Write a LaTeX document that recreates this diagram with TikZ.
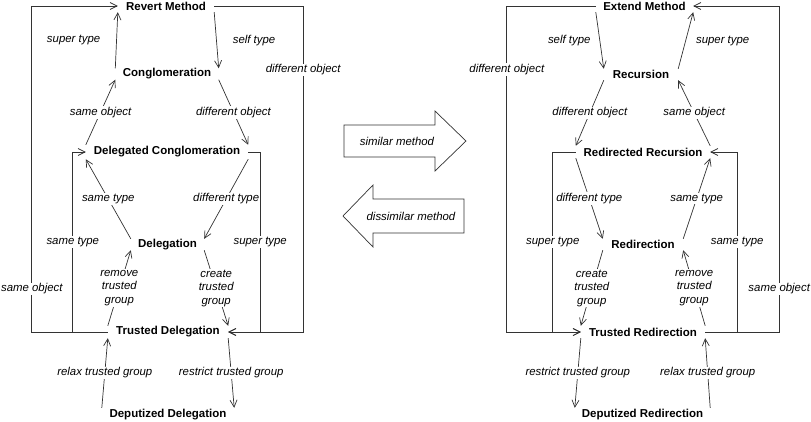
\documentclass[tikz,border=0pt]{standalone}
\usepackage{fontspec}
\setmainfont{Liberation Sans}
\usetikzlibrary{arrows.meta}
\definecolor{ln}{HTML}{333333}

\begin{document}
\begin{tikzpicture}[x=1pt,y=-1pt,
    state/.style={font=\fontsize{11.5}{13.5}\selectfont\bfseries,inner sep=0pt},
    lab/.style={font=\fontsize{11.4}{13.5}\selectfont\itshape,fill=white,inner sep=1pt,align=center},
    conn/.style={draw=ln,line width=0.7pt,-{Straight Barb[length=7pt,width=7pt]}},
    bigarrow/.style={draw=ln,line width=0.7pt,fill=white}]
    \useasboundingbox (0,0) rectangle (811,421);
    % left diagram
    \node[state,minimum width=96,minimum height=12] (rev) at (166,6) {Revert Method};
    \node[state,minimum width=103,minimum height=11] (cong) at (167,74) {Conglomeration};
    \node[state,minimum width=162,minimum height=14] (dc) at (167,152) {Delegated Conglomeration};
    \node[state,minimum width=73,minimum height=11] (del) at (167.5,244.5) {Delegation};
    \node[state,minimum width=120,minimum height=12] (td) at (168,332) {Trusted Delegation};
    \node[state,minimum width=132,minimum height=14] (dd) at (168,415) {Deputized Delegation};
    \draw[conn] (cong.north west) -- node[lab,midway,left=15pt,fill=none] (lsup) {super type} (rev.south west);
    \draw[conn] (rev.south east) -- node[lab,midway,right=15pt,fill=none] (lself) {self type} (cong.north east);
    \draw[conn] (dc.north west) -- node[lab,midway] (lso) {same object} (cong.south west);
    \draw[conn] (cong.south east) -- node[lab,midway] (ldo) {different object} (dc.north east);
    \draw[conn] (del.north west) -- node[lab,midway] (lst) {same type} (dc.south west);
    \draw[conn] (dc.south east) -- node[lab,midway] (ldt) {different type} (del.north east);
    \draw[conn] (td.north west) -- node[lab,midway] (lrm) {remove\\trusted\\group} (del.south west);
    \draw[conn] (del.south east) -- node[lab,midway] (lcr) {create\\trusted\\group} (td.north east);
    \draw[conn] (dd.north west) -- node[lab,midway] (lrel) {relax trusted group} (td.south west);
    \draw[conn] (td.south east) -- node[lab,midway] (lres) {restrict trusted group} (dd.north east);
    \draw[conn] (td.west) -- ++(-76,0) |- node[lab,pos=0.066] (lso2) {same object} (rev.west);
    \draw[conn] (td.west) -- ++(-35,0) |- node[lab,pos=0.25] (lst2) {same type} (dc.west);
    \draw[conn] (rev.east) -- ++(89,0) |- node[lab,pos=0.098] (ldo2) {different object} (td.east);
    \draw[conn] (dc.east) -- ++(12,0) |- node[lab,pos=0.25] (lsup2) {super type} (td.east);
    % middle arrows
    \draw[bigarrow] (344,125) -- (435,125) -- (435,111) -- (466,141) -- (435,171) -- (435,157) -- (344,157) -- cycle;
    \node[lab] (sim) at (397,141) {similar method};
    \draw[bigarrow] (464,199) -- (373,199) -- (373,185) -- (343,216) -- (373,247) -- (373,233) -- (464,233) -- cycle;
    \node[lab] (dis) at (411,216) {dissimilar method};
    % right diagram
    \node[state,minimum width=97,minimum height=12] (ext) at (644.5,6) {Extend Method};
    \node[state,minimum width=74,minimum height=11] (rec) at (641,74.5) {Recursion};
    \node[state,minimum width=134,minimum height=12] (rr) at (643,152) {Redirected Recursion};
    \node[state,minimum width=80,minimum height=11] (rdn) at (643,244.5) {Redirection};
    \node[state,minimum width=124,minimum height=12] (tr) at (643,332) {Trusted Redirection};
    \node[state,minimum width=135,minimum height=14] (drd) at (642.5,415) {Deputized Redirection};
    \draw[conn] (ext.south west) -- node[lab,midway,left=8pt,fill=none] (rself) {self type} (rec.north west);
    \draw[conn] (rec.north east) -- node[lab,midway,right=9pt,fill=none] (rsup) {super type} (ext.south east);
    \draw[conn] (rec.south west) -- node[lab,midway] (rdo) {different object} (rr.north west);
    \draw[conn] (rr.north east) -- node[lab,midway] (rso) {same object} (rec.south east);
    \draw[conn] (rr.south west) -- node[lab,midway] (rdt) {different type} (rdn.north west);
    \draw[conn] (rdn.north east) -- node[lab,midway] (rst) {same type} (rr.south east);
    \draw[conn] (rdn.south west) -- node[lab,midway] (rcr) {create\\trusted\\group} (tr.north west);
    \draw[conn] (tr.north east) -- node[lab,midway] (rrm) {remove\\trusted\\group} (rdn.south east);
    \draw[conn] (tr.south west) -- node[lab,midway] (rres) {restrict trusted group} (drd.north west);
    \draw[conn] (drd.north east) -- node[lab,midway] (rrel) {relax trusted group} (tr.south east);
    \draw[conn] (ext.west) -- ++(-89,0) |- node[lab,pos=0.097] (rdo2) {different object} (tr.west);
    \draw[conn] (rr.west) -- ++(-23,0) |- node[lab,pos=0.25] (rsup2) {super type} (tr.west);
    \draw[conn] (tr.east) -- ++(32,0) |- node[lab,pos=0.25] (rst2) {same type} (rr.east);
    \draw[conn] (tr.east) -- ++(74,0) |- node[lab,pos=0.066] (rso2) {same object} (ext.east);
\end{tikzpicture}
\end{document}
